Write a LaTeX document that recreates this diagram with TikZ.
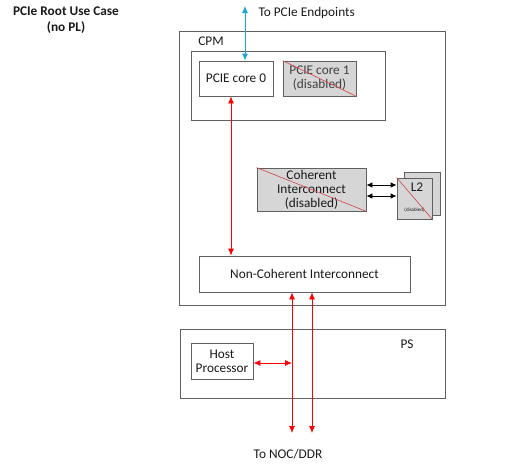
\documentclass[tikz,border=0pt]{standalone}
\usepackage{fontspec}
\setmainfont{Carlito}
\usetikzlibrary{arrows.meta}
\definecolor{boxgray}{HTML}{606060}
\definecolor{fillgray}{HTML}{D6D6D6}
\definecolor{txt}{HTML}{1A1A1A}
\definecolor{linkblue}{HTML}{1FA3DC}
\definecolor{strike}{HTML}{D04545}
\begin{document}
\begin{tikzpicture}[x=1pt,y=-1pt,
  font=\fontsize{13.3}{14}\selectfont, text=txt,
  box/.style={draw=boxgray, line width=0.8pt, inner sep=0pt, align=center},
  dis/.style={box, fill=fillgray},
  redarr/.style={draw=red, line width=0.8pt, {Latex[length=7pt,width=6pt]}-{Latex[length=7pt,width=6pt]}},
  bluearr/.style={draw=linkblue, line width=0.8pt, {Latex[length=7pt,width=6pt]}-{Latex[length=7pt,width=6pt]}},
  blackarr/.style={draw=black, line width=0.8pt, {Latex[length=6pt,width=5.5pt]}-{Latex[length=6pt,width=5.5pt]}},
  strikeline/.style={draw=strike, line width=0.6pt}]
\useasboundingbox (0,0) rectangle (510,472);

% title
\node[font=\bfseries\fontsize{13.3}{16}\selectfont, align=center] (title) at (66,20) {PCIe Root Use Case\\(no PL)};

% CPM
\node[box, minimum width=266pt, minimum height=274pt] (cpm) at (312,168) {};
\node (cpmlbl) at (211,41) {CPM};
\node[box, minimum width=194pt, minimum height=69pt] (corerow) at (288,85.5) {};
\node[box, fill=white, minimum width=74pt, minimum height=35pt] (core0) at (236,78.5) {PCIE core 0};
\node[dis, minimum width=73pt, minimum height=35pt, text=black!75] (core1) at (319.5,78.5) {PCIE core 1\\(disabled)};
\draw[strikeline] (core1.north west) -- (core1.south east);

% coherent interconnect
\node[dis, minimum width=109pt, minimum height=43pt] (coh) at (311.5,189.5) {Coherent\\Interconnect\\(disabled)};
\draw[strikeline] (coh.north west) -- (coh.south east);

% L2
\node[dis, minimum width=36pt, minimum height=43pt] (l2b) at (422,193.5) {};
\node[dis, minimum width=35pt, minimum height=41pt] (l2) at (414.5,198.5) {};
\node (l2t) at (417,187) {L2};
\node[font=\fontsize{5}{5}\selectfont] (l2d) at (414.5,210) {(disabled)};
\draw[strikeline] (l2.north west) -- (l2.south east);

\coordinate (ca) at (0,185);
\coordinate (cb) at (0,196);
\draw[blackarr] (coh.east |- ca) -- (l2.west |- ca);
\draw[blackarr] (coh.east |- cb) -- (l2.west |- cb);

% non-coherent interconnect
\node[box, fill=white, minimum width=211pt, minimum height=36pt] (nci) at (304.5,274) {Non-Coherent Interconnect};

% PS
\node[box, minimum width=265pt, minimum height=69pt] (ps) at (312.5,363.5) {};
\node (pslbl) at (407,344) {PS};
\node[box, fill=white, minimum width=62pt, minimum height=36pt] (host) at (222,361) {Host\\Processor};

% endpoints link
\coordinate (ep) at (245,6);
\node[anchor=west] (eplbl) at (255,13) {To PCIe Endpoints};
\draw[bluearr] (ep) -- (ep |- core0.north);

% core0 to NCI
\coordinate (cx) at (231,0);
\draw[redarr] (core0.south -| cx) -- (nci.north -| cx);

% NCI to NOC/DDR
\coordinate (d1) at (292,433);
\coordinate (d2) at (312,433);
\draw[redarr] (nci.south -| d1) -- (d1);
\draw[redarr] (nci.south -| d2) -- (d2);
\node (noc) at (288,454) {To NOC/DDR};

% host to line
\coordinate (hy) at (0,363);
\draw[redarr] (host.east |- hy) -- (d1 |- hy);
\end{tikzpicture}
\end{document}
